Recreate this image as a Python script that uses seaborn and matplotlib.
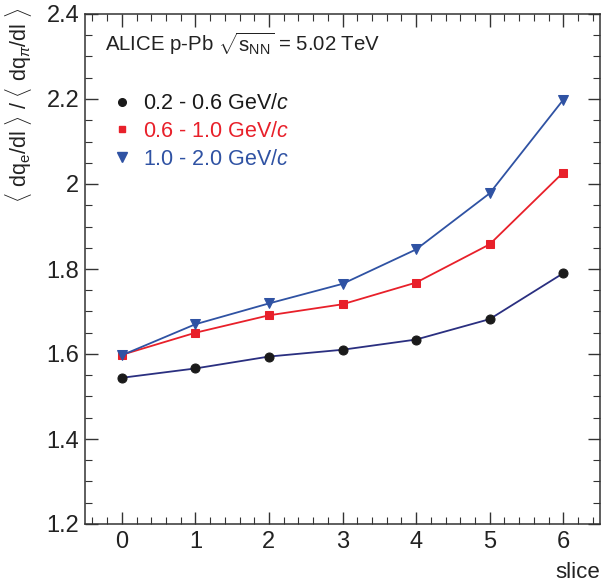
import matplotlib
matplotlib.use("Agg")
import matplotlib.pyplot as plt
from matplotlib.lines import Line2D
from matplotlib.ticker import MultipleLocator
import numpy as np
import pandas as pd
import seaborn as sns

# data
slices = [0, 1, 2, 3, 4, 5, 6]
low_pt = [1.544, 1.566, 1.594, 1.610, 1.634, 1.682, 1.790]   # 0.2 - 0.6 GeV/c
mid_pt = [1.598, 1.650, 1.691, 1.717, 1.768, 1.858, 2.027]   # 0.6 - 1.0 GeV/c
high_pt = [1.597, 1.670, 1.719, 1.765, 1.846, 1.978, 2.198]  # 1.0 - 2.0 GeV/c
labels = ["0.2 - 0.6 GeV/$c$", "0.6 - 1.0 GeV/$c$", "1.0 - 2.0 GeV/$c$"]

df = pd.DataFrame({
    "slice": slices * 3,
    "ratio": low_pt + mid_pt + high_pt,
    "bin": [labels[0]] * 7 + [labels[1]] * 7 + [labels[2]] * 7,
})

sns.set_style("ticks")
plt.rcParams["font.family"] = ["Liberation Sans", "DejaVu Sans"]
plt.rcParams["mathtext.fontset"] = "custom"
plt.rcParams["mathtext.rm"] = "Liberation Sans"
plt.rcParams["mathtext.it"] = "Liberation Sans:italic"
plt.rcParams["mathtext.sf"] = "Liberation Sans"

marker_cols = ["#1a1a1a", "#e8202a", "#2f52a3"]
line_cols = ["#2a2f80", "#e8202a", "#2f52a3"]
markers = ["o", "s", "v"]
msizes = [6.5, 6, 7.5]

fig = plt.figure(figsize=(6.04, 5.87), dpi=100)
ax = fig.add_axes([85 / 604, 63 / 587, 515 / 604, 510 / 587])

for i, lab in enumerate(labels):
    sub = df[df["bin"] == lab]
    sns.lineplot(data=sub, x="slice", y="ratio", ax=ax, color=line_cols[i],
                 marker=markers[i], markersize=msizes[i],
                 markerfacecolor=marker_cols[i], markeredgecolor=marker_cols[i],
                 linewidth=1.3, legend=False, zorder=3 + i)

ax.set_xlim(-0.5, 6.5)
ax.set_ylim(1.2, 2.4)
ax.xaxis.set_major_locator(MultipleLocator(1))
ax.xaxis.set_minor_locator(MultipleLocator(0.2))
ax.yaxis.set_major_locator(MultipleLocator(0.2))
ax.yaxis.set_minor_locator(MultipleLocator(0.05))
ax.set_yticks([1.2, 1.4, 1.6, 1.8, 2.0, 2.2, 2.4])
ax.set_yticklabels(["1.2", "1.4", "1.6", "1.8", "2", "2.2", "2.4"])
ax.tick_params(which="both", direction="in", top=True, right=True, color="#333333")
ax.tick_params(which="major", length=9, width=1, labelsize=17, pad=4,
               labelcolor="#222222")
ax.tick_params(axis="x", which="major", pad=5)
ax.tick_params(which="minor", length=5, width=0.8)
for sp in ax.spines.values():
    sp.set_linewidth(1.1)
    sp.set_color("#333333")

ax.set_xlabel("")
ax.set_ylabel("")
fig.text(578 / 604, 14 / 587, "slice", fontsize=16, ha="center", va="center",
         color="#222222")
fig.text(18 / 604, 0.821, r"$\langle$ dq$_{\rm e}$/dl $\rangle$ / $\langle$ dq$_{\pi}$/dl $\rangle$",
         rotation=90, fontsize=15.5, ha="center", va="center", color="#222222")

ax.text(0.039, 0.943, r"ALICE p-Pb $\sqrt{\mathrm{s}_{\rm NN}}$ = 5.02 TeV", transform=ax.transAxes,
        fontsize=14.7, ha="left", va="center", color="#222222")

handles = [Line2D([], [], linestyle="none", marker=markers[i], markersize=msizes[i] - 1,
                  color=marker_cols[i]) for i in range(3)]
leg = ax.legend(handles, labels, loc="upper left", bbox_to_anchor=(0.0505, 0.845),
                frameon=False, fontsize=15.5, handletextpad=0.48, labelspacing=0.32,
                handlelength=1.0, borderpad=0, borderaxespad=0)
for t, c in zip(leg.get_texts(), marker_cols):
    t.set_color(c)

fig.savefig("out.png", dpi=100)
